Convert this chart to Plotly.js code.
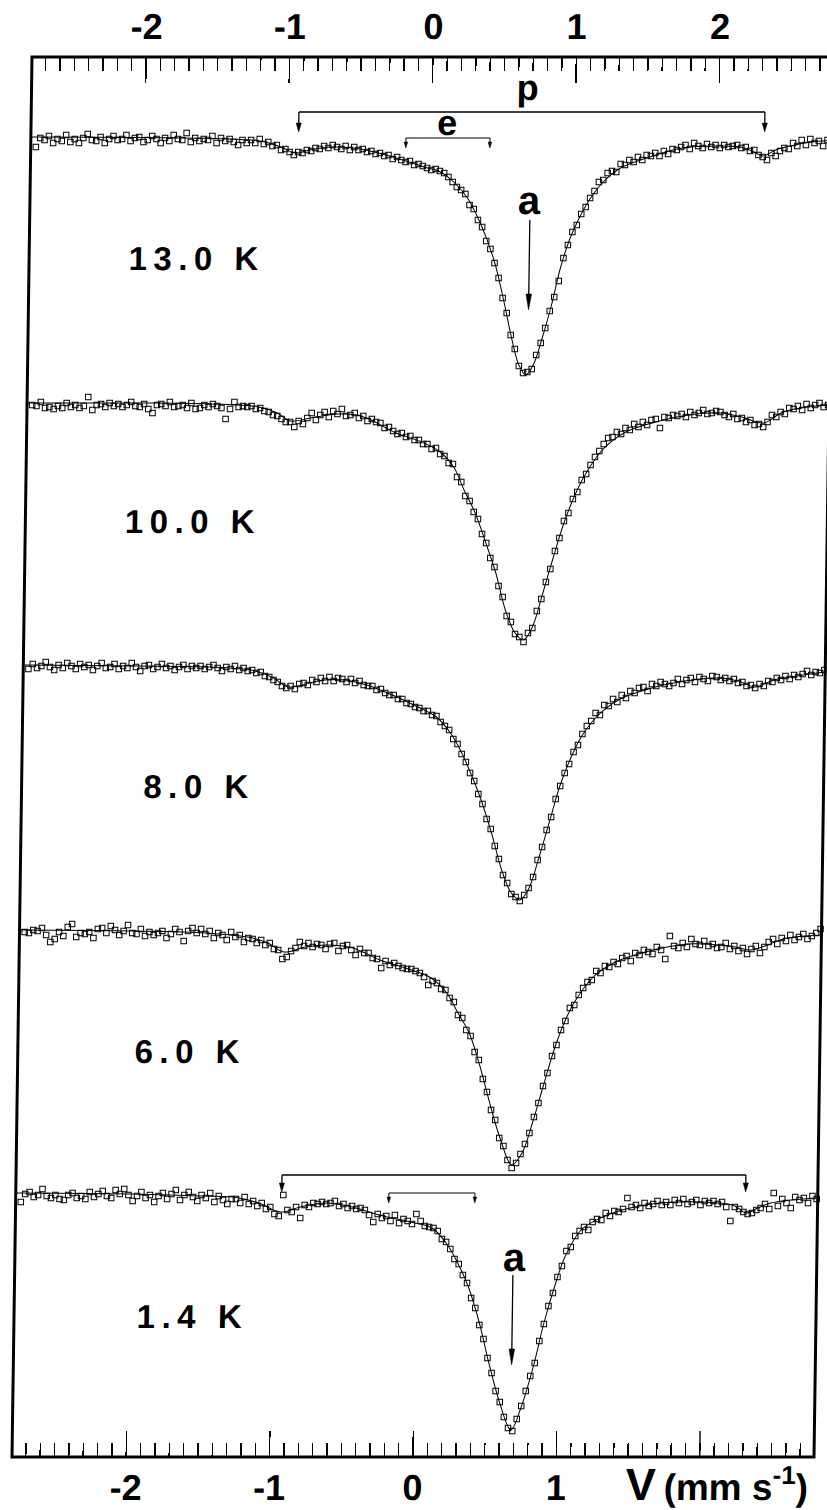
<!DOCTYPE html>
<html>
<head>
<meta charset="utf-8">
<script src="https://cdn.plot.ly/plotly-3.0.1.min.js"></script>
<style>
html,body{margin:0;padding:0;background:#fff;overflow:hidden;}
#plot{width:827px;height:1510px;transform:skewX(-0.818deg);transform-origin:0 757px;}
</style>
</head>
<body>
<div id="plot"></div>
<script>
// Doppler velocity of each channel (mm/s)
const velocity = [
-2.76,-2.73,-2.70,-2.67,-2.64,-2.61,-2.58,-2.55,-2.52,-2.49,
-2.46,-2.43,-2.40,-2.37,-2.34,-2.31,-2.28,-2.25,-2.22,-2.19,
-2.16,-2.13,-2.10,-2.07,-2.04,-2.01,-1.98,-1.95,-1.92,-1.89,
-1.86,-1.83,-1.80,-1.77,-1.74,-1.71,-1.68,-1.65,-1.62,-1.59,
-1.56,-1.53,-1.50,-1.47,-1.44,-1.41,-1.38,-1.35,-1.32,-1.29,
-1.26,-1.23,-1.20,-1.17,-1.14,-1.11,-1.08,-1.05,-1.02,-0.99,
-0.96,-0.93,-0.90,-0.87,-0.84,-0.81,-0.78,-0.75,-0.72,-0.69,
-0.66,-0.63,-0.60,-0.57,-0.54,-0.51,-0.48,-0.45,-0.42,-0.39,
-0.36,-0.33,-0.30,-0.27,-0.24,-0.21,-0.18,-0.15,-0.12,-0.09,
-0.06,-0.03,0.00,0.03,0.06,0.09,0.12,0.15,0.18,0.21,
0.24,0.27,0.30,0.33,0.36,0.39,0.42,0.45,0.48,0.51,
0.54,0.57,0.60,0.63,0.66,0.69,0.72,0.75,0.78,0.81,
0.84,0.87,0.90,0.93,0.96,0.99,1.02,1.05,1.08,1.11,
1.14,1.17,1.20,1.23,1.26,1.29,1.32,1.35,1.38,1.41,
1.44,1.47,1.50,1.53,1.56,1.59,1.62,1.65,1.68,1.71,
1.74,1.77,1.80,1.83,1.86,1.89,1.92,1.95,1.98,2.01,
2.04,2.07,2.10,2.13,2.16,2.19,2.22,2.25,2.28,2.31,
2.34,2.37,2.40,2.43,2.46,2.49,2.52,2.55,2.58,2.61,
2.64,2.67,2.70,2.73,2.76,2.79];

// Relative transmission (%) measured at each temperature
const trans13K = [
99.5,99.95,99.85,100.05,99.7,99.9,99.8,100.1,99.75,99.9,
99.7,99.95,100.15,99.85,99.8,100.0,99.7,99.9,100.05,99.85,
99.9,100.1,99.8,99.95,100.0,99.75,99.85,100.05,99.9,99.7,
99.95,99.8,100.1,99.9,99.85,100.2,99.75,99.95,99.8,99.9,
99.85,100.05,99.7,99.95,99.8,99.9,99.75,99.6,99.85,99.7,
99.85,99.7,99.9,99.65,99.75,99.55,99.6,99.35,99.4,99.25,
99.1,99.25,99.2,99.35,99.3,99.45,99.4,99.55,99.45,99.6,
99.5,99.4,99.55,99.35,99.5,99.35,99.4,99.25,99.3,99.15,
99.2,99.05,99.1,98.9,99.0,98.85,98.75,98.8,98.6,98.65,
98.55,98.45,98.35,98.4,98.3,98.2,98.0,97.75,97.5,97.35,
97.15,96.6,96.4,95.85,95.5,94.8,94.4,93.7,92.95,91.95,
91.2,90.1,89.4,88.55,88.2,88.25,88.4,89.1,89.7,90.45,
91.3,92.0,92.8,93.95,94.6,95.25,95.6,96.15,96.5,96.95,
97.3,97.75,97.85,98.2,98.3,98.25,98.65,98.6,98.85,98.75,
99.0,98.85,99.1,99.05,99.2,99.05,99.3,99.15,99.4,99.35,
99.5,99.6,99.4,99.7,99.55,99.45,99.65,99.5,99.6,99.45,
99.6,99.5,99.55,99.6,99.45,99.5,99.3,99.35,99.1,99.0,
98.85,99.2,99.05,99.3,99.45,99.4,99.7,99.55,99.85,99.6,
99.9,99.7,99.8,99.55,99.85,99.75];

const trans10K = [
99.9,99.85,100.05,99.75,99.8,99.7,99.85,99.75,100.0,99.8,
99.9,99.75,99.85,100.3,99.65,99.9,99.95,99.8,100.0,99.85,
99.95,99.8,99.9,100.05,99.85,99.8,99.95,99.7,99.5,99.9,
99.95,99.85,100.05,99.8,99.85,99.9,99.75,100.0,99.7,99.75,
99.9,99.8,99.95,99.85,99.75,99.2,99.7,100.05,99.8,99.85,
99.8,99.85,99.7,99.75,99.6,99.55,99.4,99.35,99.2,99.05,
99.05,98.8,99.1,98.95,99.25,99.5,99.15,99.4,99.55,99.3,
99.6,99.45,99.7,99.35,99.4,99.5,99.25,99.35,99.1,99.2,
99.05,99.0,98.75,98.8,98.6,98.45,98.5,98.3,98.35,98.15,
98.15,97.95,97.95,97.7,97.75,97.45,97.35,97.0,96.95,96.3,
96.05,95.35,95.1,94.55,94.2,93.45,93.0,92.25,91.8,90.85,
90.3,89.35,89.05,88.45,88.3,88.05,88.5,88.75,89.6,90.2,
91.05,91.7,92.6,93.25,94.1,94.5,95.2,95.55,96.15,96.45,
96.9,97.3,97.6,97.95,98.25,98.3,98.55,98.45,98.75,98.65,
98.95,98.8,99.05,98.9,99.15,99.2,98.75,99.3,99.25,99.4,
99.35,99.45,99.3,99.55,99.4,99.5,99.65,99.45,99.5,99.6,
99.55,99.4,99.3,99.45,99.2,99.25,99.05,99.15,98.9,98.95,
98.8,99.05,99.4,99.3,99.55,99.45,99.75,99.7,99.85,99.65,
99.95,99.75,99.9,100.0,99.8,99.9];

const trans8K = [
99.8,100.05,99.85,99.95,100.15,99.9,99.75,100.0,99.85,100.1,
99.95,99.8,100.05,99.9,100.0,99.75,99.95,100.1,99.85,99.9,
100.05,99.8,99.95,99.85,100.1,99.9,99.7,99.95,100.0,99.8,
99.9,100.05,99.85,99.95,99.75,99.9,100.0,99.8,99.95,99.85,
99.95,99.8,99.9,100.0,99.85,99.7,99.9,99.8,99.95,99.75,
99.85,99.7,99.75,99.6,99.65,99.45,99.4,99.25,99.15,98.95,
98.85,98.95,98.8,99.05,99.1,99.0,99.25,99.15,99.35,99.2,
99.4,99.2,99.35,99.3,99.15,99.3,99.1,99.2,99.0,98.95,
98.95,98.75,98.8,98.6,98.5,98.5,98.3,98.3,98.1,98.05,
97.9,97.85,97.7,97.7,97.5,97.45,97.15,96.95,96.75,96.3,
96.05,95.55,95.15,94.6,94.2,93.55,93.05,92.3,91.8,90.95,
90.3,89.5,89.1,88.55,88.4,88.2,88.5,88.85,89.4,90.25,
90.9,91.75,92.4,93.3,93.95,94.6,95.05,95.65,96.0,96.55,
96.95,97.2,97.6,97.5,98.0,97.95,98.3,98.15,98.5,98.35,
98.7,98.6,98.85,98.9,98.7,99.05,98.95,99.15,99.05,98.95,
99.1,99.3,99.05,99.25,99.35,99.15,99.4,99.3,99.2,99.45,
99.4,99.25,99.35,99.2,99.3,99.1,99.15,98.95,99.0,98.85,
99.05,98.95,99.2,99.15,99.35,99.25,99.45,99.3,99.5,99.4,
99.55,99.7,99.5,99.65,99.6,99.75];

const trans6K = [
99.9,99.85,100.0,99.95,100.1,99.75,99.4,99.55,99.9,99.7,
100.15,100.3,99.65,99.85,99.8,99.9,99.6,100.05,100.1,99.85,
100.2,100.0,99.75,99.95,100.25,99.85,99.8,100.05,99.7,99.9,
99.75,99.85,99.95,99.6,99.8,100.05,99.9,99.45,99.95,100.1,
99.85,100.05,99.8,99.95,99.6,99.85,99.75,99.5,99.9,99.65,
99.75,99.4,99.6,99.55,99.35,99.5,99.25,99.35,99.05,99.0,
98.55,98.65,98.95,99.1,99.4,99.2,99.35,99.15,99.3,99.25,
99.05,99.3,99.35,98.95,99.2,99.25,99.0,98.75,99.05,98.85,
98.85,98.6,98.55,98.1,98.45,98.25,98.35,98.2,98.1,98.05,
98.05,97.95,97.85,97.65,97.25,97.45,97.35,97.05,97.0,96.6,
96.4,95.75,95.6,95.0,94.7,93.9,93.5,92.55,91.9,91.0,
90.5,89.6,89.2,88.5,88.1,88.35,88.8,89.3,89.85,90.65,
91.35,92.2,92.85,93.7,94.25,95.0,95.45,96.1,96.25,96.75,
97.1,97.4,97.5,97.95,97.85,98.2,98.15,98.4,98.3,98.6,
98.7,98.45,98.85,98.75,99.0,98.9,98.8,99.15,99.0,98.55,
99.7,99.2,99.1,99.35,99.15,99.55,99.3,99.25,99.45,99.2,
99.3,99.1,99.15,99.35,99.05,99.2,98.95,99.1,98.8,99.05,
99.2,98.85,99.15,99.4,99.55,99.3,99.6,99.45,99.75,99.5,
99.65,99.8,99.55,99.7,99.85,100.05];

const trans1_4K = [
99.55,99.95,100.05,99.8,99.9,100.2,99.85,99.75,99.9,99.7,
99.65,99.9,100.0,99.75,99.85,99.7,100.05,99.8,99.95,100.1,
99.85,99.75,100.15,99.95,100.2,99.9,99.6,99.85,100.05,99.75,
99.9,99.55,99.85,100.0,99.7,99.95,100.15,99.65,99.9,100.05,
99.8,99.6,99.9,99.75,100.0,99.55,99.85,99.65,99.45,99.7,
99.7,99.5,99.8,99.45,99.6,99.35,99.5,99.2,99.3,98.95,
98.85,99.9,99.15,99.05,99.3,98.75,99.4,99.3,99.5,99.45,
99.55,99.45,99.5,99.6,99.35,99.45,99.25,99.35,99.2,99.25,
99.15,98.9,98.55,98.95,98.75,98.85,98.6,98.9,98.5,98.7,
98.6,98.45,98.95,98.6,98.35,98.3,98.25,98.1,97.7,97.55,
97.2,96.7,96.45,95.9,95.5,94.75,94.25,93.4,92.7,91.75,
91.0,90.1,89.55,88.8,88.25,88.1,88.7,89.35,90.1,90.85,
91.5,92.6,93.45,94.35,95.0,95.8,96.35,97.1,97.3,97.85,
98.1,98.3,98.15,98.55,98.7,98.65,99.0,98.85,99.1,99.05,
99.2,99.75,99.3,99.4,99.25,99.5,99.35,99.45,99.6,99.4,
99.55,99.4,99.65,99.5,99.7,99.45,99.55,99.65,99.4,99.6,
99.5,99.6,99.45,99.55,99.3,98.6,99.3,99.2,99.05,98.95,
99.0,99.15,99.25,99.45,99.2,100.0,99.35,99.7,99.5,99.25,
99.8,99.65,99.75,99.5,99.85,99.7];

// Least-squares fitted curves (velocity, transmission)
const fitV13K = [-2.79,-2.0,-1.5,-1.2,-1.05,-0.95,-0.85,-0.7,-0.55,-0.4,-0.2,-0.05,0.05,0.15,0.25,0.35,0.45,0.52,0.58,0.63,0.68,0.73,0.79,0.85,0.91,0.97,1.03,1.1,1.2,1.32,1.5,1.75,2.0,2.15,2.25,2.31,2.4,2.5,2.65,2.79];
const fitT13K = [100.0,99.97,99.92,99.8,99.5,99.2,99.35,99.5,99.45,99.25,98.85,98.5,98.3,97.8,97.0,95.65,93.75,91.75,89.85,88.6,88.1,88.6,89.95,91.55,93.45,94.85,95.85,96.8,97.75,98.45,98.95,99.45,99.55,99.5,99.25,99.05,99.35,99.55,99.75,99.85];
const fitV10K = [-2.79,-2.0,-1.5,-1.18,-1.05,-0.96,-0.85,-0.78,-0.63,-0.5,-0.41,-0.22,-0.04,0.09,0.19,0.26,0.34,0.41,0.49,0.56,0.63,0.69,0.75,0.82,0.89,0.96,1.04,1.11,1.22,1.37,1.59,1.82,2.04,2.19,2.34,2.48,2.79];
const fitT10K = [100.0,100.0,99.95,99.8,99.5,99.1,99.2,99.3,99.45,99.4,99.2,98.5,98.05,97.55,96.75,95.65,94.5,93.15,91.5,89.65,88.5,88.15,88.8,90.5,92.3,94.0,95.5,96.5,97.65,98.5,99.05,99.4,99.5,99.3,99.0,99.55,99.9];
const fitV8K = [-2.79,-2.0,-1.5,-1.18,-1.05,-0.95,-0.85,-0.7,-0.55,-0.4,-0.22,-0.04,0.09,0.19,0.26,0.34,0.41,0.49,0.56,0.63,0.69,0.75,0.82,0.89,0.96,1.04,1.11,1.22,1.37,1.59,1.82,2.04,2.19,2.31,2.44,2.6,2.79];
const fitT8K = [100.0,99.95,99.9,99.7,99.35,98.9,99.0,99.25,99.25,99.0,98.5,97.9,97.4,96.6,95.75,94.5,93.25,91.5,89.75,88.6,88.25,88.8,90.4,92.2,94.0,95.5,96.5,97.5,98.3,98.85,99.2,99.35,99.2,98.9,99.25,99.45,99.65];
const fitV6K = [-2.79,-2.0,-1.5,-1.17,-1.05,-0.95,-0.8,-0.65,-0.47,-0.28,-0.1,0.08,0.19,0.27,0.35,0.43,0.5,0.58,0.66,0.73,0.8,0.87,0.95,1.02,1.09,1.21,1.35,1.57,1.87,2.08,2.2,2.31,2.42,2.53,2.79];
const fitT6K = [100.0,99.95,99.85,99.6,99.3,98.9,99.15,99.25,99.1,98.5,98.1,97.6,96.85,95.85,94.85,93.15,91.35,89.5,88.25,88.85,90.35,92.15,94.15,95.5,96.5,97.65,98.35,98.9,99.3,99.25,99.15,99.0,99.25,99.55,99.75];
const fitV1_4K = [-2.79,-2.0,-1.5,-1.28,-1.1,-0.95,-0.81,-0.63,-0.45,-0.26,-0.04,0.11,0.22,0.30,0.37,0.45,0.52,0.60,0.68,0.75,0.83,0.90,0.97,1.04,1.15,1.30,1.52,1.81,2.10,2.22,2.30,2.38,2.47,2.79];
const fitT1_4K = [100.0,99.95,99.85,99.8,99.5,99.05,99.3,99.5,99.3,98.9,98.55,98.25,97.4,96.4,95.3,93.5,91.5,89.5,88.15,89.3,91.3,93.5,95.3,96.8,98.15,98.8,99.3,99.55,99.5,99.35,99.0,99.25,99.5,99.75];

const temperatures = ['13.0 K','10.0 K','8.0 K','6.0 K','1.4 K'];
const topTickVals = [-2,-1,0,1,2];
const topTickText = ['-2','-1','0','1','2'];
const bottomTickVals = [-2,-1,0,1];
const bottomTickText = ['-2','-1','0','1'];

// ---------- drawing ----------
const PLOT_H = 1400;            // plot-area height in px
const PX_PER_V = 802 / 5.593;   // px per mm/s on the x axis
const py = px => 1 - px / PLOT_H;     // px below plot top -> paper y
const dv = px => px / PX_PER_V;       // px -> mm/s

const spectra = [
  {t: trans13K, fv: fitV13K, ft: fitT13K, ax: 'y'},
  {t: trans10K, fv: fitV10K, ft: fitT10K, ax: 'y2'},
  {t: trans8K,  fv: fitV8K,  ft: fitT8K,  ax: 'y3'},
  {t: trans6K,  fv: fitV6K,  ft: fitT6K,  ax: 'y4'},
  {t: trans1_4K,fv: fitV1_4K,ft: fitT1_4K,ax: 'y5'}
];
const traces = [];
spectra.forEach(s => {
  traces.push({x: s.fv, y: s.ft, xaxis: 'x', yaxis: s.ax, type: 'scatter', mode: 'lines',
    line: {color: '#000', width: 1, shape: 'spline', smoothing: 1}, hoverinfo: 'skip'});
  traces.push({x: velocity, y: s.t, xaxis: 'x', yaxis: s.ax, type: 'scatter', mode: 'markers',
    cliponaxis: false,
    marker: {symbol: 'square-open', size: 5.5, color: '#000', line: {width: 1, color: '#000'}}, hoverinfo: 'skip'});
});
traces.push({x: [0], y: [100], xaxis: 'x2', yaxis: 'y', type: 'scatter', mode: 'markers',
  marker: {opacity: 0}, hoverinfo: 'skip', showlegend: false});

const FONT = 'Liberation Sans, Arial, Helvetica, sans-serif';
const xRange = [-2.796, 2.797];
const tickFont = {family: FONT, size: 36, color: '#000', weight: 'bold'};
const minorTicks = {ticks: 'inside', ticklen: 14, tickwidth: 1.4, tickcolor: '#000', dtick: 0.1, tick0: 0, showgrid: false};

const yCommon = {visible: false, fixedrange: true, anchor: 'x'};
const layout = {
  width: 827, height: 1510,
  margin: {l: 22, r: 3, t: 57, b: 53},
  paper_bgcolor: '#fff', plot_bgcolor: 'rgba(0,0,0,0)',
  showlegend: false,
  xaxis: {domain: [0, 1], anchor: 'y5', side: 'bottom', range: xRange,
    tickmode: 'array', tickvals: bottomTickVals, ticktext: bottomTickText,
    ticks: 'inside', ticklen: 26, tickwidth: 1.4, tickcolor: '#000',
    tickfont: tickFont, ticklabelstandoff: 6,
    showline: false, showgrid: false, zeroline: false, minor: minorTicks},
  xaxis2: {overlaying: 'x', anchor: 'y', side: 'top', range: xRange,
    tickmode: 'array', tickvals: topTickVals, ticktext: topTickText,
    ticks: 'inside', ticklen: 26, tickwidth: 1.4, tickcolor: '#000',
    tickfont: tickFont, ticklabelstandoff: 10,
    showline: false, showgrid: false, zeroline: false, minor: minorTicks},
  yaxis:  Object.assign({domain: [0.76071, 1], range: [87.25, 104.0]}, yCommon),
  yaxis2: Object.assign({domain: [0.57286, 0.76071], range: [87.4, 100.55]}, yCommon),
  yaxis3: Object.assign({domain: [0.385, 0.57286], range: [87.35, 100.5]}, yCommon),
  yaxis4: Object.assign({domain: [0.19643, 0.385], range: [87.4, 100.6]}, yCommon),
  yaxis5: Object.assign({domain: [0, 0.19643], range: [86.8, 100.55]}, yCommon),
  shapes: [
    {type: 'rect', xref: 'paper', yref: 'paper', x0: 0, x1: 1, y0: 0, y1: 1, line: {color: '#000', width: 3}},
    // long tick at 2 on the lower axis (its label place holds the unit)
    {type: 'line', xref: 'x', yref: 'paper', x0: 2, x1: 2, y0: 0, y1: 26 / PLOT_H, line: {color: '#000', width: 1.4}}
  ],
  annotations: []
};

// bracket lines (p, e) with downward arrows; arrows also for "a"
function bracket(v0, v1, yLinePx, tipPx, w, headLen, headHalf) {
  layout.shapes.push({type: 'line', xref: 'x', yref: 'paper', x0: v0, x1: v1, y0: py(yLinePx), y1: py(yLinePx),
    line: {color: '#000', width: w}});
  arrowDown(v0, yLinePx, tipPx, w, headLen, headHalf);
  arrowDown(v1, yLinePx, tipPx, w, headLen, headHalf);
}
function arrowDown(v, tailPx, tipPx, w, headLen, headHalf) {
  layout.shapes.push({type: 'line', xref: 'x', yref: 'paper', x0: v, x1: v, y0: py(tailPx), y1: py(tipPx - headLen + 1),
    line: {color: '#000', width: w}});
  const yb = py(tipPx - headLen), yt = py(tipPx);
  layout.shapes.push({type: 'path', xref: 'x', yref: 'paper', fillcolor: '#000', line: {color: '#000', width: 0.5},
    path: `M ${v - dv(headHalf)} ${yb} L ${v + dv(headHalf)} ${yb} L ${v} ${yt} Z`});
}
bracket(-0.929, 2.321, 55, 75, 1.3, 9, 2.6);     // p, 13.0 K
bracket(-0.180, 0.406, 81, 91, 1.0, 6, 1.8);     // e, 13.0 K
bracket(-0.941, 2.294, 1118, 1135, 1.3, 9, 2.6); // p, 1.4 K
bracket(-0.194, 0.406, 1136, 1146, 1.0, 6, 1.8); // e, 1.4 K
arrowDown(0.692, 163, 253, 1.3, 16, 2.8);        // a, 13.0 K
arrowDown(0.679, 1218, 1308, 1.3, 16, 2.8);      // a, 1.4 K

const labelFont = {family: FONT, size: 33, color: '#000', weight: 'bold'};
const labelPos = [[-1.63, 0.8564], [-1.63, 0.6679], [-1.56, 0.4786], [-1.59, 0.29], [-1.55, 0.1007]];
temperatures.forEach((t, i) => {
  layout.annotations.push({text: t, xref: 'x', yref: 'paper', x: labelPos[i][0], y: labelPos[i][1],
    xanchor: 'center', yanchor: 'middle', showarrow: false, font: labelFont});
});
const letterFont = {family: FONT, size: 36, color: '#000', weight: 'bold'};
const aFont = {family: FONT, size: 40, color: '#000', weight: 'bold'};
function letter(t, v, y, font, xa) {
  return {text: t, xref: 'x', yref: 'paper', x: v, y: y, xanchor: xa || 'center', yanchor: 'middle',
    showarrow: false, font: font};
}
layout.annotations.push(
  letter('p', 0.662, 0.97786, letterFont),
  letter('e', 0.107, 0.95286, letterFont),
  letter('a', 0.687, 0.89786, aFont),
  letter('a', 0.688, 0.14286, aFont),
  letter('V', 1.593, -0.01929, {family: FONT, size: 45, color: '#000', weight: 'bold'}),
  letter('(mm s<sup>-1</sup>)', 1.739, -0.01929, {family: FONT, size: 37, color: '#000', weight: 'bold'}, 'left')
);

Plotly.newPlot('plot', traces, layout, {displayModeBar: false, staticPlot: true}).then(gd => {
  gd.querySelectorAll('.annotation-text').forEach(el => {
    if (temperatures.indexOf(el.textContent) >= 0) el.style.letterSpacing = '6.5px';
  });
});
</script>
</body>
</html>
